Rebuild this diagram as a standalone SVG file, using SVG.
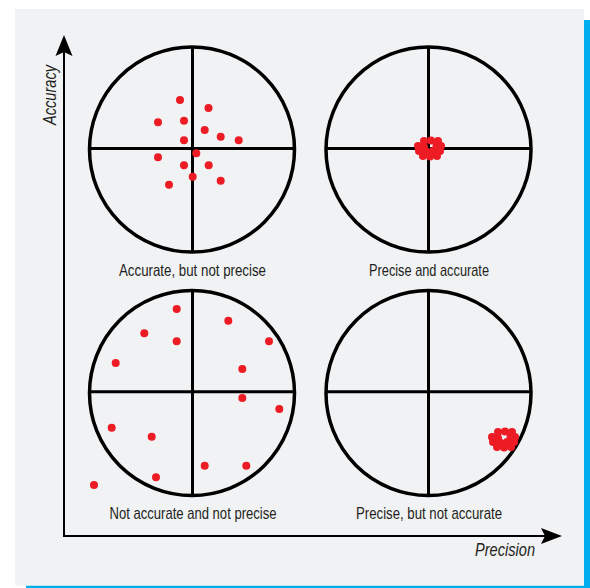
<svg xmlns="http://www.w3.org/2000/svg" width="590" height="588" viewBox="0 0 590 588">
<defs>
<style>
.ring{fill:none;stroke:#000;stroke-width:3.5}
.cross{stroke:#000;stroke-width:3}
.dot{fill:#ed1c24}
.lbl{font-family:"Liberation Sans",Arial,sans-serif;font-size:17px;fill:#231f20;text-anchor:middle}
.ax{font-family:"Liberation Sans",Arial,sans-serif;font-size:18px;font-style:italic;fill:#231f20;text-anchor:middle}
.axis{stroke:#000;stroke-width:2;fill:none}
</style>
<g id="cluster">
<circle class="dot" cx="-5" cy="-8" r="4"/><circle class="dot" cx="2" cy="-8.5" r="4"/><circle class="dot" cx="9" cy="-8" r="4"/>
<circle class="dot" cx="-11" cy="-3" r="4"/><circle class="dot" cx="-5" cy="-2" r="4"/><circle class="dot" cx="7.5" cy="-3" r="4"/><circle class="dot" cx="12" cy="-3" r="4"/>
<circle class="dot" cx="-10" cy="2" r="4"/><circle class="dot" cx="-3" cy="2.5" r="4"/><circle class="dot" cx="4" cy="2" r="4"/><circle class="dot" cx="11" cy="2" r="4"/>
<circle class="dot" cx="-6" cy="7" r="4"/><circle class="dot" cx="1" cy="7.5" r="4"/><circle class="dot" cx="8" cy="7" r="4"/>
</g>
</defs>
<rect x="584" y="20" width="6" height="568" fill="#00aeef"/>
<rect x="26" y="585.5" width="564" height="2.5" fill="#00aeef"/>
<rect x="15" y="9" width="569" height="576.5" fill="#f1f2f4"/>

<g id="connectors">
<path class="axis" d="M64,536 V50 M63,536 H548"/>
<polygon points="64,35 72.5,56 64,52 55.5,56" fill="#000"/>
<polygon points="562,536 541,544 545,536 541,528" fill="#000"/>
</g>

<g id="axis-accuracy"><text class="ax" transform="translate(56,95) rotate(-90)" textLength="60" lengthAdjust="spacingAndGlyphs">Accuracy</text></g>
<g id="axis-precision"><text class="ax" x="505" y="555.5" textLength="60" lengthAdjust="spacingAndGlyphs">Precision</text></g>

<g id="accurate-not-precise">
<circle class="ring" cx="192" cy="149.5" r="102.5"/>
<path class="cross" d="M192.5,47 V252 M89.5,148.5 H294.5"/>
<circle class="dot" cx="180" cy="100" r="4"/><circle class="dot" cx="208.5" cy="108" r="4"/>
<circle class="dot" cx="158" cy="122.3" r="4"/><circle class="dot" cx="184" cy="120.7" r="4"/>
<circle class="dot" cx="204.7" cy="130" r="4"/><circle class="dot" cx="220.7" cy="136.7" r="4"/>
<circle class="dot" cx="238.7" cy="140.3" r="4"/><circle class="dot" cx="184" cy="140.3" r="4"/>
<circle class="dot" cx="196.3" cy="153.3" r="4"/><circle class="dot" cx="158" cy="157.3" r="4"/>
<circle class="dot" cx="184" cy="165.3" r="4"/><circle class="dot" cx="208.7" cy="165.3" r="4"/>
<circle class="dot" cx="192.7" cy="176.7" r="4"/><circle class="dot" cx="169" cy="184.7" r="4"/>
<circle class="dot" cx="220.7" cy="180.7" r="4"/>
<text class="lbl" x="192.5" y="275.5" textLength="147" lengthAdjust="spacingAndGlyphs">Accurate, but not precise</text>
</g>

<g id="precise-and-accurate">
<circle class="ring" cx="428.5" cy="149.5" r="102.5"/>
<path class="cross" d="M428.5,47 V252 M326,148.5 H531"/>
<use href="#cluster" x="429" y="149"/>
<text class="lbl" x="429" y="275.5" textLength="120" lengthAdjust="spacingAndGlyphs">Precise and accurate</text>
</g>

<g id="not-accurate-not-precise">
<circle class="ring" cx="192" cy="393" r="102.5"/>
<path class="cross" d="M192.5,290.5 V495.5 M89.5,391.7 H294.5"/>
<circle class="dot" cx="176.7" cy="309" r="4"/><circle class="dot" cx="144.3" cy="333.3" r="4"/>
<circle class="dot" cx="176.7" cy="341.3" r="4"/><circle class="dot" cx="115.7" cy="363" r="4"/>
<circle class="dot" cx="228.3" cy="320.7" r="4"/><circle class="dot" cx="269" cy="341.3" r="4"/>
<circle class="dot" cx="242.3" cy="369" r="4"/><circle class="dot" cx="242.3" cy="398" r="4"/>
<circle class="dot" cx="279.3" cy="409" r="4"/><circle class="dot" cx="111.7" cy="427.7" r="4"/>
<circle class="dot" cx="151.7" cy="436.7" r="4"/><circle class="dot" cx="156" cy="477.3" r="4"/>
<circle class="dot" cx="204.7" cy="465.7" r="4"/><circle class="dot" cx="246.3" cy="465.7" r="4"/>
<circle class="dot" cx="94" cy="485" r="4"/>
<text class="lbl" x="193" y="518.5" textLength="167" lengthAdjust="spacingAndGlyphs">Not accurate and not precise</text>
</g>

<g id="precise-not-accurate">
<circle class="ring" cx="428.5" cy="393" r="102.5"/>
<path class="cross" d="M428.5,290.5 V495.5 M326,391.7 H531"/>
<use href="#cluster" x="503" y="440"/>
<text class="lbl" x="429" y="518.5" textLength="146" lengthAdjust="spacingAndGlyphs">Precise, but not accurate</text>
</g>
</svg>
